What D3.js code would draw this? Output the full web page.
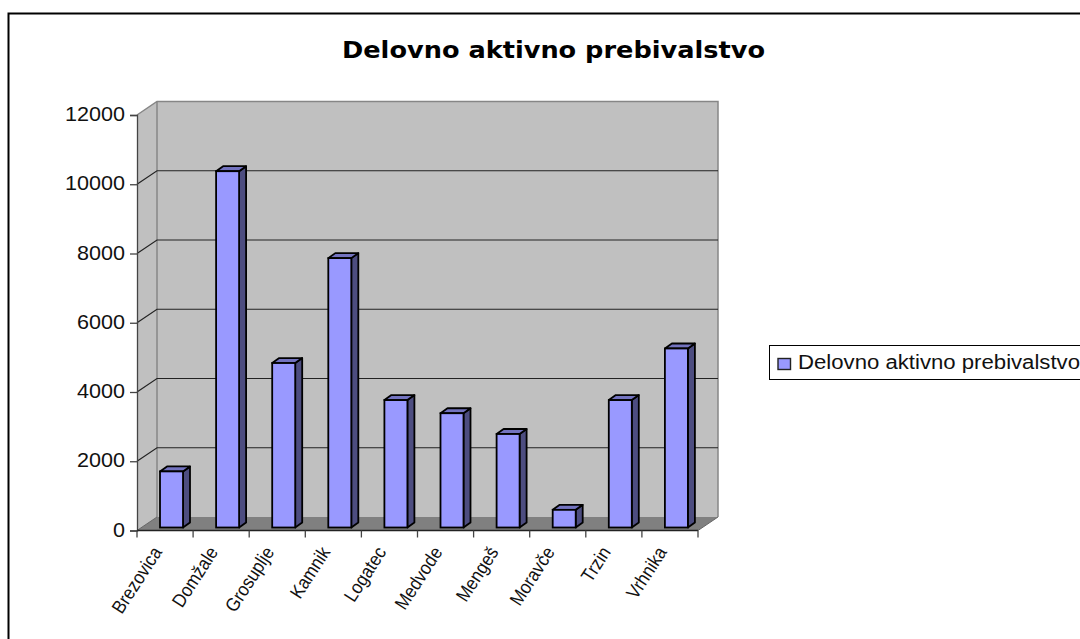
<!DOCTYPE html>
<html><head><meta charset="utf-8">
<script src="https://cdn.jsdelivr.net/npm/d3@7"></script>
<style>html,body{margin:0;padding:0;background:#fff}svg{display:block}
text{font-family:"Liberation Sans",Arial,sans-serif;fill:#111}</style></head>
<body><svg id="c" width="1080" height="639"></svg>
<script>
const categories=["Brezovica","Domžale","Grosuplje","Kamnik","Logatec","Medvode","Mengeš","Moravče","Trzin","Vrhnika"];
const values=[1620,10290,4750,7780,3680,3300,2700,510,3680,5170];
const yTicks=[0,2000,4000,6000,8000,10000,12000];
const seriesName="Delovno aktivno prebivalstvo";
const chartTitle="Delovno aktivno prebivalstvo";

const svg=d3.select("#c");
const x=d3.scaleBand().domain(categories).range([137,698]);
const y=d3.scaleLinear().domain([0,12000]).range([530.5,115]);
const dx=20,dy=-13.5;          // wall depth
const bdx=7,bdy=-5;            // bar depth
const barW=23,barShift=23,barLift=3;

// frame
svg.append("path").attr("d","M8.5,639V13.5H1080").attr("fill","none").attr("stroke","#000").attr("stroke-width",2);
svg.append("text").attr("x",342).attr("y",58).attr("textLength",423).attr("lengthAdjust","spacingAndGlyphs")
  .style("font-family","'DejaVu Sans'").style("font-weight","bold").style("font-size","23px").style("fill","#000").text(chartTitle);

const x0=x.range()[0],x1=x.range()[1],yb=y(0),yt=y(12000);
// side wall, back wall, floor
svg.append("path").attr("d",`M${x0},${yb}L${x0},${yt}L${x0+dx},${yt+dy}L${x0+dx},${yb+dy}Z`).attr("fill","#c0c0c0");
svg.append("rect").attr("x",x0+dx).attr("y",yt+dy).attr("width",x1-x0).attr("height",yb-yt).attr("fill","#c0c0c0");
svg.append("path").attr("d",`M${x0},${yb}L${x0+dx},${yb+dy}L${x1+dx},${yb+dy}L${x1},${yb}Z`).attr("fill","#808080");
// wall edges
svg.append("path").attr("d",`M${x0},${yt}L${x0+dx},${yt+dy}H${x1+dx}V${yb+dy}M${x0+dx},${yt+dy}V${yb+dy}`)
  .attr("fill","none").attr("stroke","#868686").attr("stroke-width",1.5);
svg.append("path").attr("d",`M${x0},${yb}L${x0+dx},${yb+dy}M${x1},${yb}L${x1+dx},${yb+dy}`)
  .attr("fill","none").attr("stroke","#666").attr("stroke-width",1);
// gridlines
const grid=yTicks.filter(t=>t>0&&t<12000);
svg.selectAll(".g").data(grid).join("path").attr("class","g")
  .attr("d",t=>`M${x0},${y(t)}L${x0+dx},${y(t)+dy}H${x1+dx}`)
  .attr("fill","none").attr("stroke","#222").attr("stroke-width",1.2);

// bars
const g=svg.selectAll(".b").data(categories).join("g").attr("class","b");
const bx=c=>x(c)+barShift, by=i=>y(values[i])-barLift, bb=yb-barLift;
g.append("path").attr("d",(c,i)=>`M${bx(c)+barW},${by(i)}l${bdx},${bdy}V${bb+bdy}l${-bdx},${-bdy}Z`)
  .attr("fill","#4d4d80").attr("stroke","#000").attr("stroke-width",1.8).attr("stroke-linejoin","round");
g.append("path").attr("d",(c,i)=>`M${bx(c)},${by(i)}l${bdx},${bdy}h${barW}l${-bdx},${-bdy}Z`)
  .attr("fill","#7373bf").attr("stroke","#000").attr("stroke-width",1.8).attr("stroke-linejoin","round");
g.append("rect").attr("x",c=>bx(c)).attr("y",(c,i)=>by(i)).attr("width",barW).attr("height",(c,i)=>bb-by(i))
  .attr("fill","#9999ff").attr("stroke","#000").attr("stroke-width",1.8);

// axes
const ay=svg.append("g").attr("transform",`translate(${x0},0)`)
  .call(d3.axisLeft(y).tickValues(yTicks).tickSize(7).tickPadding(5).tickFormat(d3.format("d")));
ay.selectAll("text").style("font-size","20.5px").style("font-family","'Liberation Sans'").style("fill","#111")
  .attr("y",-1).attr("textLength",d=>String(d).length*12).attr("lengthAdjust","spacingAndGlyphs");
ay.selectAll("line,path").attr("stroke","#444").attr("stroke-width",1.3);

const ticksX=categories.map(c=>x(c)).concat([x1]);
svg.append("path").attr("d",`M${x0},${yb}H${x1}`).attr("stroke","#222").attr("stroke-width",1.4);
svg.selectAll(".tx").data(ticksX).join("line").attr("class","tx")
  .attr("x1",d=>d).attr("x2",d=>d).attr("y1",yb).attr("y2",yb+7).attr("stroke","#444").attr("stroke-width",1.3);
svg.selectAll(".lx").data(categories).join("text").attr("class","lx")
  .attr("transform",c=>`translate(${x(c)+x.bandwidth()/2-8},${yb+18}) rotate(-57) scale(0.9,1)`)
  .attr("text-anchor","end").attr("dy","0.35em").style("font-size","19px").text(c=>c);

// legend
svg.append("rect").attr("x",769.5).attr("y",345.5).attr("width",320).attr("height",34)
  .attr("fill","#fff").attr("stroke","#000").attr("stroke-width",1);
svg.append("rect").attr("x",778).attr("y",358.5).attr("width",12.5).attr("height",11)
  .attr("fill","#9999ff").attr("stroke","#222").attr("stroke-width",1.4);
svg.append("text").attr("x",798).attr("y",369).attr("textLength",282).attr("lengthAdjust","spacingAndGlyphs")
  .style("font-size","19.5px").text(seriesName);
</script></body></html>
